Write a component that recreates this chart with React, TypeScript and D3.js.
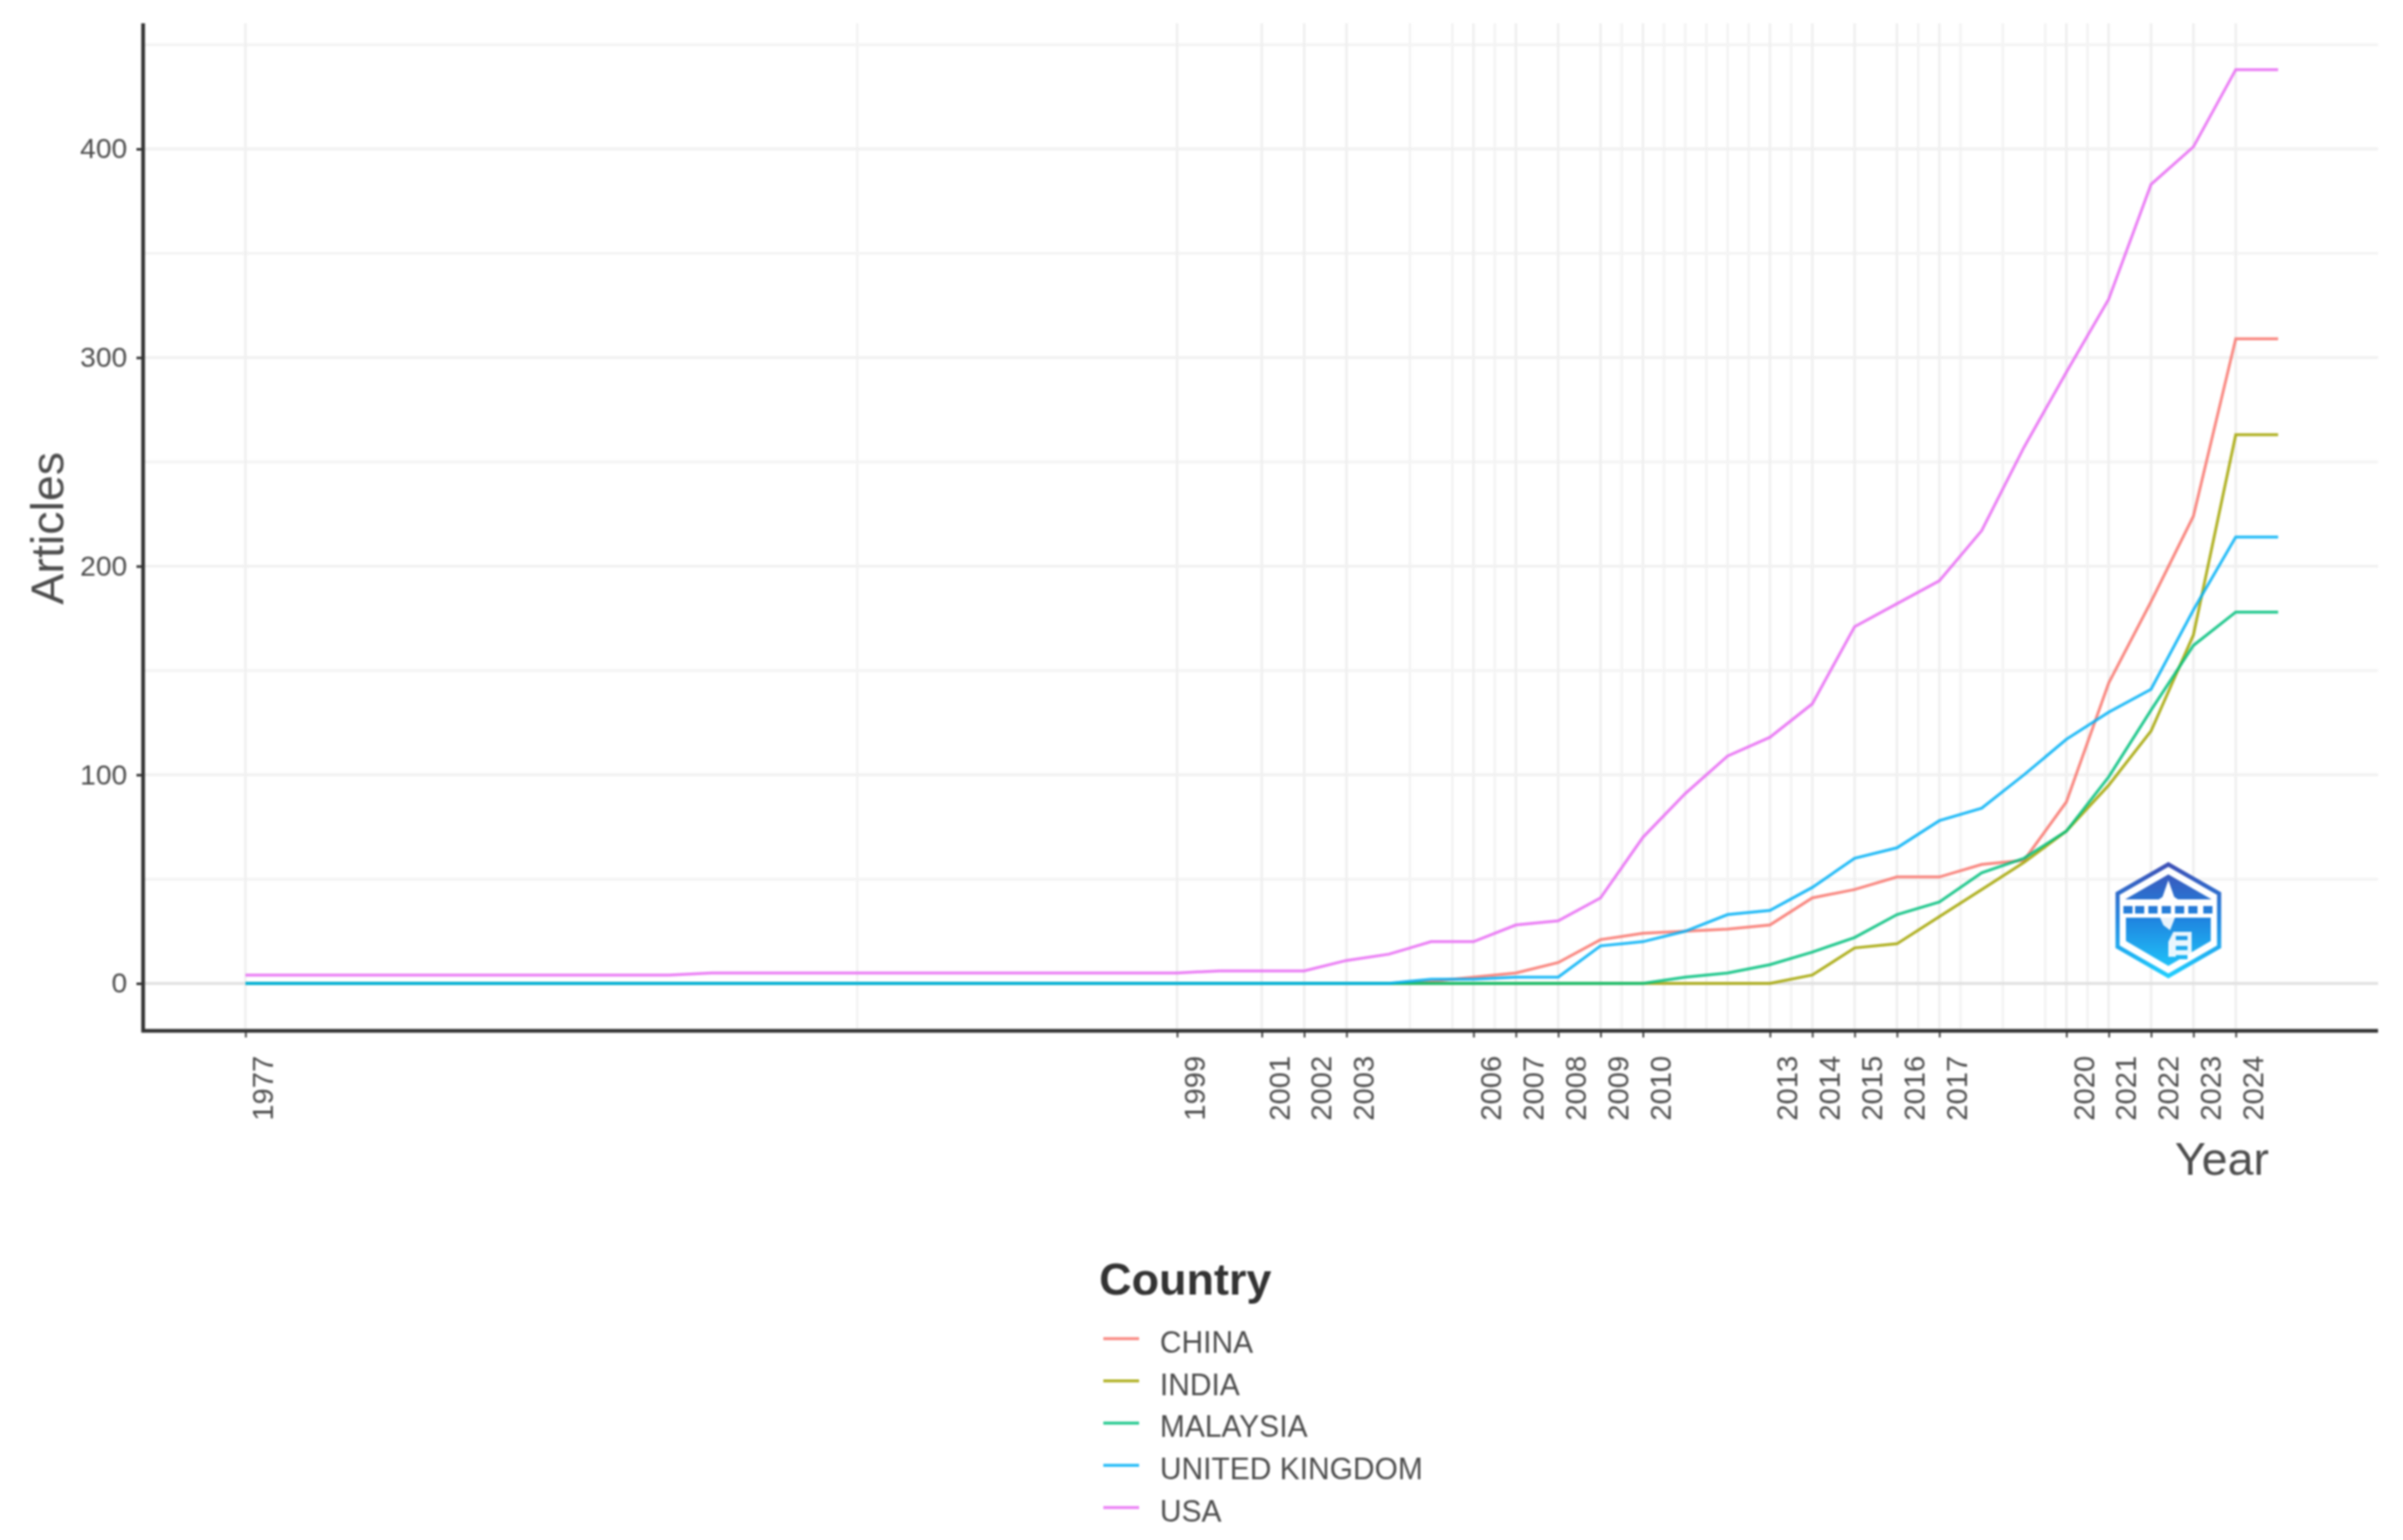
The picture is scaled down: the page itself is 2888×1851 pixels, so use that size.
import * as d3 from 'd3';
import { useEffect, useRef } from "react";

const years = [
    1977, 1978, 1979, 1980, 1981, 1982, 1983, 1984, 1985, 1986, 1987, 1988, 1989, 1990, 1991, 1992, 1993,
    1994, 1995, 1996, 1997, 1998, 1999, 2000, 2001, 2002, 2003, 2004, 2005, 2006, 2007, 2008, 2009, 2010,
    2011, 2012, 2013, 2014, 2015, 2016, 2017, 2018, 2019, 2020, 2021, 2022, 2023, 2024, 2025,
];

const china = [
    0, 0, 0, 0, 0, 0, 0, 0, 0, 0, 0, 0, 0, 0, 0, 0, 0, 0, 0, 0, 0, 0, 0, 0, 0, 0, 0, 0, 1,
    3, 5, 10, 21, 24, 25, 26, 28, 41, 45, 51, 51, 57, 59, 87, 144, 183, 224, 309, 309,
];
const india = [
    0, 0, 0, 0, 0, 0, 0, 0, 0, 0, 0, 0, 0, 0, 0, 0, 0, 0, 0, 0, 0, 0, 0, 0, 0, 0, 0, 0, 0,
    0, 0, 0, 0, 0, 0, 0, 0, 4, 17, 19, 32, 45, 58, 73, 95, 121, 167, 263, 263,
];
const malaysia = [
    0, 0, 0, 0, 0, 0, 0, 0, 0, 0, 0, 0, 0, 0, 0, 0, 0, 0, 0, 0, 0, 0, 0, 0, 0, 0, 0, 0, 0,
    0, 0, 0, 0, 0, 3, 5, 9, 15, 22, 33, 39, 53, 60, 73, 99, 131, 162, 178, 178,
];
const uk = [
    0, 0, 0, 0, 0, 0, 0, 0, 0, 0, 0, 0, 0, 0, 0, 0, 0, 0, 0, 0, 0, 0, 0, 0, 0, 0, 0, 0, 2,
    2, 3, 3, 18, 20, 25, 33, 35, 46, 60, 65, 78, 84, 100, 117, 130, 141, 179, 214, 214,
];
const usa = [
    4, 4, 4, 4, 4, 4, 4, 4, 4, 4, 4, 5, 5, 5, 5, 5, 5, 5, 5, 5, 5, 5, 5, 6, 6, 6, 11, 14, 20,
    20, 28, 30, 41, 70, 91, 109, 118, 134, 171, 182, 193, 217, 257, 293, 328, 383, 401, 438, 438,
];

const countries = ["CHINA", "INDIA", "MALAYSIA", "UNITED KINGDOM", "USA"];
const colors = ["#F8766D", "#A3A500", "#00BF7D", "#00B0F6", "#E76BF3"];
const seriesValues = [china, india, malaysia, uk, usa];

const yearTicks = [
    1977, 1999, 2001, 2002, 2003, 2006, 2007, 2008, 2009, 2010, 2013, 2014, 2015, 2016, 2017, 2020, 2021,
    2022, 2023, 2024,
];
const yearMinor = [
    1991.45, 2004.5, 2005.5, 2006.5, 2009.5, 2010.5, 2011, 2011.5, 2012, 2012.5, 2013.5, 2016.5, 2017.5,
    2018.5, 2019.5, 2020.5,
];
const articleTicks = [0, 100, 200, 300, 400];
const articleMinor = [50, 150, 250, 350, 450];

const WIDTH = 2888;
const HEIGHT = 1851;
const FONT = "'Liberation Sans', Arial, sans-serif";

export default function App() {
    const svgRef = useRef<SVGSVGElement | null>(null);

    useEffect(() => {
        if (!svgRef.current) return;

        const panel = { left: 172, right: 2858, top: 28, bottom: 1239 };

        const x = d3.scaleLinear().domain([1977, 2024]).range([295, 2687]);
        const y = d3.scaleLinear().domain([0, 400]).range([1182, 179]);

        const svg = d3.select(svgRef.current);
        svg.selectAll("*").remove();

        // logo gradient
        const defs = svg.append("defs");
        const grad = defs.append("linearGradient")
            .attr("id", "logoGrad")
            .attr("gradientUnits", "userSpaceOnUse")
            .attr("x1", 0).attr("y1", 1037).attr("x2", 0).attr("y2", 1175);
        grad.append("stop").attr("offset", "0").attr("stop-color", "#3f4fb5");
        grad.append("stop").attr("offset", "0.5").attr("stop-color", "#1f86e0");
        grad.append("stop").attr("offset", "1").attr("stop-color", "#1fd0ff");

        const plot = svg.append("g").style("filter", "blur(0.9px)");

        // grid
        const grid = plot.append("g").attr("fill", "none");
        grid.selectAll(".vminor").data(yearMinor).enter().append("line")
            .attr("x1", d => x(d)).attr("x2", d => x(d))
            .attr("y1", panel.top).attr("y2", panel.bottom - 3)
            .attr("stroke", "#f3f3f3").attr("stroke-width", 3);
        grid.selectAll(".hminor").data(articleMinor).enter().append("line")
            .attr("x1", panel.left).attr("x2", panel.right)
            .attr("y1", d => y(d)).attr("y2", d => y(d))
            .attr("stroke", "#f4f4f4").attr("stroke-width", 3.5);
        grid.selectAll(".vmajor").data(yearTicks).enter().append("line")
            .attr("x1", d => x(d)).attr("x2", d => x(d))
            .attr("y1", panel.top).attr("y2", panel.bottom - 3)
            .attr("stroke", "#efefef").attr("stroke-width", 3);
        grid.selectAll(".hmajor").data(articleTicks).enter().append("line")
            .attr("x1", panel.left).attr("x2", panel.right)
            .attr("y1", d => y(d)).attr("y2", d => y(d))
            .attr("stroke", d => d === 0 ? "#e0e0e0" : "#f1f1f1").attr("stroke-width", 3.5);

        // lines
        const line = d3.line<number>()
            .x((_, i) => x(years[i]))
            .y(d => y(d));

        seriesValues.forEach((values, i) => {
            plot.append("path")
                .datum(values)
                .attr("fill", "none")
                .attr("stroke", colors[i])
                .attr("stroke-opacity", 0.85)
                .attr("stroke-width", 3.5)
                .attr("d", line);
        });

        // logo, roughly what the badge looks like at this size
        const logo = plot.append("g");
        logo.append("path")
            .attr("d", "M2606 1039 L2667 1074 L2667 1138 L2606 1173 L2545 1138 L2545 1074 Z")
            .attr("fill", "#ffffff")
            .attr("stroke", "url(#logoGrad)")
            .attr("stroke-width", 5);
        logo.append("path")
            .attr("d", "M2606 1051 L2658 1081 L2554 1081 Z")
            .attr("fill", "url(#logoGrad)");
        logo.append("path")
            .attr("d", "M2606 1058 L2613 1078 L2622 1084 L2590 1084 L2599 1078 Z")
            .attr("fill", "#ffffff");
        logo.selectAll(".band").data([2552, 2566, 2582, 2598, 2614, 2630, 2648]).enter().append("rect")
            .attr("x", d => d)
            .attr("y", 1089)
            .attr("width", 11)
            .attr("height", 9)
            .attr("fill", "url(#logoGrad)");
        logo.append("path")
            .attr("d", "M2555 1103 H2657 V1131 L2606 1161 L2555 1131 Z")
            .attr("fill", "url(#logoGrad)");
        logo.append("path")
            .attr("d", "M2596 1103 H2614 L2608 1118 L2600 1112 Z M2612 1120 H2634 V1150 H2606 V1132 Z")
            .attr("fill", "#ffffff")
            .attr("fill-opacity", 0.9);
        logo.selectAll(".mark").data([1125, 1137, 1148]).enter().append("rect")
            .attr("x", 2615)
            .attr("y", d => d)
            .attr("width", 14)
            .attr("height", 5)
            .attr("fill", "url(#logoGrad)");

        // axes
        const textColor = "#4d4d4d";

        const xAxis = plot.append("g")
            .attr("transform", `translate(0,${panel.bottom})`)
            .call(d3.axisBottom(x)
                .tickValues(yearTicks)
                .tickFormat(d3.format("d"))
                .tickSize(8)
                .tickSizeOuter(0));
        xAxis.select(".domain").remove();
        xAxis.selectAll("line").attr("stroke", "#333333").attr("stroke-width", 2);
        xAxis.selectAll("text")
            .attr("transform", "rotate(-90)")
            .attr("x", -30)
            .attr("y", 20)
            .attr("dy", "0.36em")
            .style("text-anchor", "end")
            .style("font-family", FONT)
            .style("font-size", "35px")
            .style("fill", textColor);

        const yAxis = plot.append("g")
            .attr("transform", `translate(${panel.left},0)`)
            .call(d3.axisLeft(y)
                .tickValues(articleTicks)
                .tickSize(8)
                .tickSizeOuter(0));
        yAxis.select(".domain").remove();
        yAxis.selectAll("line").attr("stroke", "#333333").attr("stroke-width", 3);
        yAxis.selectAll("text")
            .attr("x", -19)
            .style("font-family", FONT)
            .style("font-size", "34px")
            .style("fill", textColor);

        plot.append("line")
            .attr("x1", panel.left).attr("x2", panel.left)
            .attr("y1", panel.top).attr("y2", panel.bottom + 2)
            .attr("stroke", "#333333").attr("stroke-width", 4.5);
        plot.append("line")
            .attr("x1", panel.left - 2).attr("x2", panel.right)
            .attr("y1", panel.bottom).attr("y2", panel.bottom)
            .attr("stroke", "#333333").attr("stroke-width", 4.5);

        // axis titles
        plot.append("text")
            .attr("transform", "translate(76,635) rotate(-90)")
            .attr("text-anchor", "middle")
            .style("font-family", FONT)
            .style("font-size", "56px")
            .style("fill", textColor)
            .text("Articles");
        plot.append("text")
            .attr("x", 2727)
            .attr("y", 1412)
            .attr("text-anchor", "end")
            .style("font-family", FONT)
            .style("font-size", "56px")
            .style("fill", textColor)
            .text("Year");

        // legend
        const legend = plot.append("g");
        legend.append("text")
            .attr("x", 1321)
            .attr("y", 1556)
            .style("font-family", FONT)
            .style("font-size", "54px")
            .style("font-weight", "bold")
            .style("fill", "#333333")
            .text("Country");

        const legendY = d3.scalePoint<string>().domain(countries).range([1609, 1812]);
        const rows = legend.selectAll(".row").data(countries).enter().append("g")
            .attr("transform", d => `translate(0,${legendY(d)})`);
        rows.append("line")
            .attr("x1", 1326).attr("x2", 1369)
            .attr("stroke", (_, i) => colors[i])
            .attr("stroke-opacity", 0.85)
            .attr("stroke-width", 3.5);
        rows.append("text")
            .attr("x", 1394)
            .attr("y", 4)
            .attr("dy", "0.36em")
            .style("font-family", FONT)
            .style("font-size", "36px")
            .style("fill", textColor)
            .text(d => d);
    }, []);

    return (
        <svg
            ref={svgRef}
            width={WIDTH}
            height={HEIGHT}
            viewBox={`0 0 ${WIDTH} ${HEIGHT}`}
            style={{ position: "absolute", left: 0, top: 0, background: "#ffffff", display: "block" }}
        />
    );
}
